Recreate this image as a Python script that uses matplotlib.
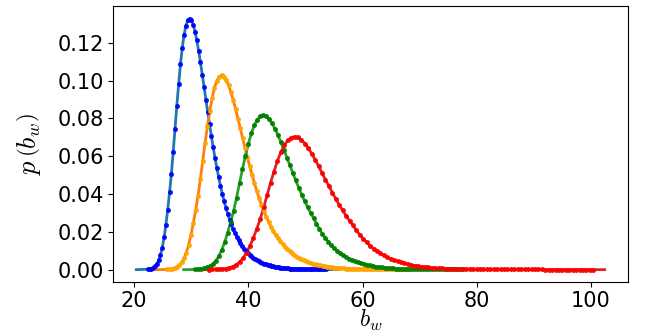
import numpy as np
import matplotlib
matplotlib.use("Agg")
import matplotlib.pyplot as plt

plt.rcParams['mathtext.fontset'] = 'cm'

# first and last bin centre of each histogram
blue_range = (22.37, 53.59)
orange_range = (25.83, 68.24)
green_range = (30.67, 77.35)
red_range = (33.06, 100.43)

# histogram densities p(b_w), in units of 1e-3
blue_vals = [0.2, 0.4, 0.6, 1.1, 1.9, 3.1, 4.9, 7.6, 11.6, 17.0,
             23.8, 31.8, 40.8, 50.5, 62.1, 74.4, 86.6, 98.0, 108.5, 117.3,
             124.2, 129.1, 131.9, 132.8, 131.9, 129.6, 125.9, 121.2, 115.7, 109.6,
             103.2, 96.6, 89.9, 83.3, 76.8, 70.6, 64.7, 59.1, 53.8, 48.9,
             44.4, 40.1, 36.3, 32.7, 29.5, 26.5, 23.9, 21.4, 19.2, 17.3,
             15.5, 13.9, 12.4, 11.1, 9.9, 8.9, 7.9, 7.1, 6.3, 5.7,
             5.1, 4.5, 4.0, 3.6, 3.2, 2.9, 2.6, 2.3, 2.0, 1.8,
             1.6, 1.4, 1.3, 1.1, 1.0, 0.9, 0.8, 0.7, 0.6, 0.6,
             0.5, 0.5, 0.4, 0.4, 0.3, 0.3, 0.3, 0.2, 0.2, 0.2,
             0.2, 0.1, 0.1, 0.1, 0.1, 0.1, 0.1, 0.1, 0.1]

orange_vals = [0.1, 0.3, 0.5, 0.9, 1.5, 2.4, 3.8, 5.9, 8.9, 13.1,
               18.4, 24.6, 31.6, 39.1, 48.0, 57.5, 67.0, 75.8, 84.0, 90.7,
               96.1, 99.9, 102.0, 102.8, 102.1, 100.3, 97.4, 93.8, 89.5, 84.8,
               79.9, 74.7, 69.5, 64.4, 59.4, 54.6, 50.1, 45.7, 41.6, 37.8,
               34.3, 31.1, 28.1, 25.3, 22.8, 20.5, 18.5, 16.6, 14.9, 13.4,
               12.0, 10.7, 9.6, 8.6, 7.7, 6.9, 6.1, 5.5, 4.9, 4.4,
               3.9, 3.5, 3.1, 2.8, 2.5, 2.2, 2.0, 1.8, 1.6, 1.4,
               1.3, 1.1, 1.0, 0.9, 0.8, 0.7, 0.6, 0.6, 0.5, 0.4,
               0.4, 0.4, 0.3, 0.3, 0.3, 0.2, 0.2, 0.2, 0.2, 0.1,
               0.1, 0.1, 0.1, 0.1, 0.1, 0.1, 0.1, 0.1, 0.1, 0.1,
               0.1, 0.1, 0.1, 0.1]

green_vals = [0.1, 0.2, 0.4, 0.7, 1.2, 1.9, 3.0, 4.7, 7.1, 10.4,
              14.6, 19.5, 25.1, 31.0, 38.1, 45.7, 53.2, 60.2, 66.6, 72.0,
              76.3, 79.3, 81.0, 81.6, 81.0, 79.6, 77.3, 74.4, 71.1, 67.3,
              63.4, 59.3, 55.2, 51.1, 47.2, 43.4, 39.7, 36.3, 33.1, 30.0,
              27.2, 24.2, 21.4, 18.9, 16.7, 14.7, 12.9, 11.3, 9.9, 8.7,
              7.6, 6.6, 5.8, 5.1, 4.4, 3.8, 3.3, 2.9, 2.5, 2.2,
              1.9, 1.6, 1.4, 1.2, 1.1, 0.9, 0.8, 0.7, 0.6, 0.6,
              0.5, 0.4, 0.4, 0.4, 0.3, 0.3, 0.2, 0.2, 0.2, 0.2,
              0.2, 0.1, 0.1, 0.1, 0.1, 0.1, 0.1, 0.1, 0.1, 0.1,
              0.1]

red_vals = [0.0, 0.1, 0.1, 0.2, 0.3, 0.6, 1.0, 1.6, 2.6, 4.0,
            6.1, 9.0, 12.6, 16.8, 21.6, 26.8, 32.9, 39.4, 45.9, 51.9,
            57.5, 62.1, 65.8, 68.4, 69.8, 70.3, 69.9, 68.6, 66.7, 64.2,
            61.3, 58.1, 54.7, 51.1, 47.6, 44.1, 40.7, 37.4, 34.3, 31.3,
            28.5, 25.9, 23.5, 20.8, 18.5, 16.3, 14.4, 12.7, 11.1, 9.8,
            8.6, 7.5, 6.6, 5.7, 5.0, 4.4, 3.8, 3.3, 2.9, 2.5,
            2.1, 1.9, 1.6, 1.4, 1.2, 1.0, 0.9, 0.8, 0.7, 0.6,
            0.5, 0.5, 0.4, 0.4, 0.3, 0.3, 0.3, 0.2, 0.2, 0.2,
            0.2, 0.2, 0.1, 0.1, 0.1, 0.1, 0.1, 0.1, 0.1, 0.1,
            0.1, 0.1, 0.1, 0.1, 0.1, 0.1, 0.1, 0.1, 0.0, 0.0,
            0.0, 0.0, 0.0, 0.0, 0.0, 0.0, 0.0, 0.0, 0.0, 0.0,
            0.0, 0.0, 0.0]

series = [
    (blue_range, blue_vals, '#1f77b4', 'blue'),
    (orange_range, orange_vals, '#ff7f0e', 'orange'),
    (green_range, green_vals, '#2ca02c', 'green'),
    (red_range, red_vals, '#d62728', 'red'),
]

fig = plt.figure(figsize=(6.64, 3.32), dpi=100)
ax = fig.add_axes([0.170, 0.150, 0.776, 0.832])

for (lo, hi), vals, lc, dc in series:
    y = np.array(vals) / 1000.0
    x = np.linspace(lo, hi, len(y))
    # smooth curve, extended to zero on both sides
    xl = np.concatenate([[lo - 2.0], x, [hi + 2.0]])
    yl = np.concatenate([[0.0], y, [0.0]])
    ax.plot(xl, yl, color=lc, lw=2.0, zorder=2)
    half = (x[1] - x[0]) / 2.0
    ax.errorbar(x, y, xerr=half, fmt='o', ms=2.6, color=dc, ecolor=dc,
                elinewidth=0.9, capsize=0, alpha=0.85, zorder=3)

ax.set_xticks([20, 40, 60, 80, 100])
ax.set_yticks([0.00, 0.02, 0.04, 0.06, 0.08, 0.10, 0.12])
ax.set_yticklabels(['0.00', '0.02', '0.04', '0.06', '0.08', '0.10', '0.12'])
ax.tick_params(labelsize=15, pad=3)
ax.set_xlabel(r'$b_w$', fontsize=17, labelpad=-2)
ax.set_ylabel(r'$p\,\left(b_w\right)$', fontsize=19, labelpad=10)

fig.savefig('out.png', dpi=100)
